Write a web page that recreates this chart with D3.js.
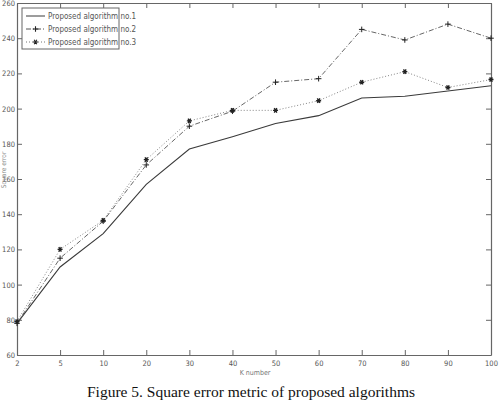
<!DOCTYPE html>
<html>
<head>
<meta charset="utf-8">
<script src="https://cdn.jsdelivr.net/npm/d3@7"></script>
<style>
  body { margin: 0; background: #fff; }
  svg { display: block; }
  .tick text { font-family: "Liberation Sans Narrow", "DejaVu Sans Condensed", sans-serif; font-size: 7.5px; fill: #555; }
  .tick line, .domain { stroke: #666; }
</style>
</head>
<body>
<script>
const kNumbers = ["2", "5", "10", "20", "30", "40", "50", "60", "70", "80", "90", "100"];
const algo1 = [78, 110, 129, 157, 177, 184, 191.5, 196, 206, 207, 210, 213];
const algo2 = [78, 115, 136, 168, 190, 198.5, 215, 217, 245, 239, 248, 240];
const algo3 = [79, 120, 136.5, 171, 193, 199, 199, 204.5, 215, 221, 212, 216.5];
const seriesNames = ["Proposed algorithm no.1", "Proposed algorithm no.2", "Proposed algorithm no.3"];
const yTicks = [60, 80, 100, 120, 140, 160, 180, 200, 220, 240, 260];

const w = 501, h = 400;
const plotLeft = 17, plotRight = 491, plotTop = 3, plotBottom = 355;
const narrow = "'Liberation Sans Narrow', 'DejaVu Sans Condensed', sans-serif";

const svg = d3.select("body").append("svg")
    .attr("width", w)
    .attr("height", h);

const x = d3.scalePoint()
    .domain(kNumbers)
    .range([plotLeft, plotRight]);

const y = d3.scaleLinear()
    .domain([60, 260])
    .range([plotBottom, plotTop]);

// box axes with inward ticks, matlab style
svg.append("g")
    .attr("transform", "translate(0," + plotBottom + ")")
    .call(d3.axisBottom(x).tickSizeInner(-5).tickSizeOuter(0).tickPadding(6));

svg.append("g")
    .attr("transform", "translate(0," + plotTop + ")")
    .call(d3.axisTop(x).tickSizeInner(-5).tickSizeOuter(0).tickFormat(""));

svg.append("g")
    .attr("transform", "translate(" + plotLeft + ",0)")
    .call(d3.axisLeft(y).tickValues(yTicks).tickSizeInner(-5).tickSizeOuter(0).tickPadding(2));

svg.append("g")
    .attr("transform", "translate(" + plotRight + ",0)")
    .call(d3.axisRight(y).tickValues(yTicks).tickSizeInner(-5).tickSizeOuter(0).tickFormat(""));

svg.selectAll(".domain").attr("stroke-width", 1.2);

const line = d3.line()
    .x((d, i) => x(kNumbers[i]))
    .y(d => y(d));

const styles = [
    { data: algo1, dash: null, marker: null, color: "#3a3a3a" },
    { data: algo2, dash: "5,2,1,2", marker: "plus", color: "#555" },
    { data: algo3, dash: "1,2", marker: "star", color: "#777" }
];

const plusPath = "M-2.8,0H2.8M0,-2.8V2.8";
const starPath = "M-2.5,0H2.5M-1.3,-2.2L1.3,2.2M-1.3,2.2L1.3,-2.2";

styles.forEach(s => {
    svg.append("path")
        .datum(s.data)
        .attr("d", line)
        .attr("fill", "none")
        .attr("stroke", s.color)
        .attr("stroke-width", s.marker ? 0.9 : 1.1)
        .attr("stroke-dasharray", s.dash);

    if (s.marker) {
        svg.append("g").selectAll("path")
            .data(s.data)
            .join("path")
            .attr("transform", (d, i) => "translate(" + x(kNumbers[i]) + "," + y(d) + ")")
            .attr("d", s.marker === "plus" ? plusPath : starPath)
            .attr("stroke", "#222")
            .attr("stroke-width", s.marker === "plus" ? 1 : 1.4);
    }
});

// legend
const legend = svg.append("g");
legend.append("rect")
    .attr("x", 22).attr("y", 8)
    .attr("width", 97).attr("height", 41)
    .attr("fill", "#fff")
    .attr("stroke", "#666");

seriesNames.forEach((name, i) => {
    const ly = 16 + i * 13;
    const s = styles[i];
    legend.append("line")
        .attr("x1", 26).attr("x2", 45)
        .attr("y1", ly).attr("y2", ly)
        .attr("stroke", s.color)
        .attr("stroke-width", 1)
        .attr("stroke-dasharray", s.dash);
    if (s.marker) {
        legend.append("path")
            .attr("transform", "translate(35.5," + ly + ")")
            .attr("d", s.marker === "plus" ? plusPath : starPath)
            .attr("stroke", "#222")
            .attr("stroke-width", 1.1);
    }
    legend.append("text")
        .attr("x", 48).attr("y", ly + 2.5)
        .attr("font-family", narrow)
        .attr("font-size", 8)
        .attr("fill", "#555")
        .text(name);
});

// axis labels
svg.append("text")
    .attr("x", 255).attr("y", 375)
    .attr("text-anchor", "middle")
    .attr("font-family", narrow)
    .attr("font-size", 7)
    .attr("fill", "#777")
    .text("K number");

svg.append("text")
    .attr("transform", "translate(6,170) rotate(-90)")
    .attr("text-anchor", "middle")
    .attr("font-family", narrow)
    .attr("font-size", 6.5)
    .attr("fill", "#888")
    .text("Square error");

// caption
svg.append("text")
    .attr("x", 251).attr("y", 397)
    .attr("text-anchor", "middle")
    .attr("font-family", "'Liberation Serif', 'Times New Roman', serif")
    .attr("font-size", 15.5)
    .attr("fill", "#111")
    .text("Figure 5. Square error metric of proposed algorithms");
</script>
</body>
</html>
